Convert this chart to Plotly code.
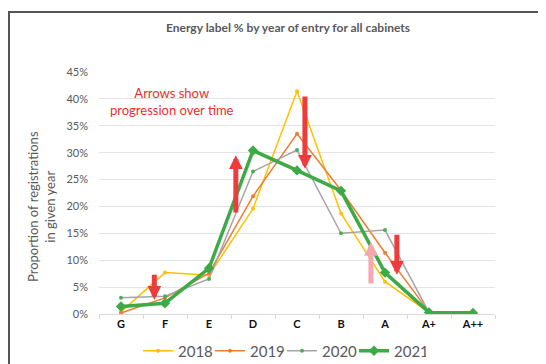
import plotly.graph_objects as go

labels = ["G", "F", "E", "D", "C", "B", "A", "A+", "A++"]
s2018 = [0.4, 7.7, 7.2, 19.6, 41.4, 18.7, 6.0, 0.3, 0.2]
s2019 = [0.2, 3.0, 7.6, 21.9, 33.5, 23.0, 11.4, 0.4, 0.4]
s2020 = [3.0, 3.3, 6.5, 26.5, 30.5, 15.0, 15.6, 0.3, 0.2]
s2021 = [1.4, 2.0, 8.5, 30.4, 26.7, 22.9, 7.7, 0.3, 0.2]

def frac(v):
    return [x / 100 for x in v]

fig = go.Figure()
fig.add_trace(go.Scatter(x=labels, y=frac(s2018), name="2018", mode="lines+markers",
                         line=dict(color="#FFC000", width=1.5), marker=dict(size=4, color="#FFC000")))
fig.add_trace(go.Scatter(x=labels, y=frac(s2019), name="2019", mode="lines+markers",
                         line=dict(color="#ED7D31", width=1.5), marker=dict(size=4, color="#ED7D31")))
fig.add_trace(go.Scatter(x=labels, y=frac(s2020), name="2020", mode="lines+markers",
                         line=dict(color="#A5A5A5", width=1.5), marker=dict(size=4, color="#4CAF50")))
fig.add_trace(go.Scatter(x=labels, y=frac(s2021), name="2021", mode="lines+markers",
                         line=dict(color="#3DAA47", width=3.5),
                         marker=dict(size=8, symbol="diamond", color="#3DAA47")))

def arrow(xi, y_from, y_to, color):
    fig.add_annotation(x=xi, y=y_to / 100, ax=xi, ay=y_from / 100, xref="x", yref="y",
                       axref="x", ayref="y", showarrow=True, arrowhead=2, arrowsize=0.55,
                       arrowwidth=5, arrowcolor=color, text="", standoff=0)

arrow(0.757, 7.6, 2.65, "#EE3B3B")
arrow(2.61, 18.6, 29.5, "#EE3B3B")
arrow(4.18, 40.7, 27.0, "#EE3B3B")
arrow(6.27, 15.0, 7.3, "#EE3B3B")
arrow(5.68, 5.4, 13.4, "#F6A7B0")

# plot area in window pixels: left 99, right 495, top 72, bottom 314
PL, PW, PB, PH = 99, 396, 314, 242
W, H = 538, 356

def px(xw):
    return (xw - PL) / PW

def py(yw):
    return (PB - yw) / PH

fig.add_annotation(x=1.16, y=0.395, xref="x", yref="y", showarrow=False,
                   text="Arrows show<br>progression over time",
                   font=dict(family="Lato", size=13, color="#E8302F"))

fig.add_annotation(x=px(288), y=py(28), xref="paper", yref="paper",
                   xanchor="center", yanchor="middle",
                   showarrow=False, text="<b>Energy label % by year of entry for all cabinets</b>",
                   font=dict(family="Lato", size=12, color="#595959"))

fig.add_annotation(x=px(42), y=py(206), xref="paper", yref="paper",
                   xanchor="center", yanchor="middle",
                   showarrow=False, textangle=-90,
                   text="Proportion of registrations<br>in given year",
                   font=dict(family="Lato", size=13, color="#595959"))

# outer frame
fig.add_shape(type="path", xref="paper", yref="paper",
              path=f"M {px(9)} -0.5 L {px(9)} {py(12)} L 1.3 {py(12)}",
              line=dict(color="#555555", width=2))

# the page has an 8px body margin, so the figure is offset by 8px
fig.update_layout(
    width=W, height=H,
    margin=dict(l=PL - 8, r=W - (PL - 8) - PW, t=72 - 8, b=H - (72 - 8) - PH,
                pad=0, autoexpand=False),
    paper_bgcolor="white", plot_bgcolor="white",
    showlegend=True,
    legend=dict(orientation="h", x=px(282), xanchor="center", y=py(351), yanchor="middle",
                font=dict(family="Lato", size=15, color="#595959"), itemwidth=30,
                entrywidth=27, tracegroupgap=0),
    xaxis=dict(type="category", range=[-0.5, 8.5], showgrid=False, showline=True,
               linecolor="#D9D9D9", linewidth=1, ticks="outside", tickson="boundaries",
               ticklen=4, tickcolor="#D9D9D9",
               tickfont=dict(family="Lato", size=11, color="#111111"), fixedrange=True),
    yaxis=dict(range=[0, 0.45], dtick=0.05, tickformat=".0%", showgrid=True,
               gridcolor="#E3E3E3", gridwidth=1, zeroline=False, showline=False,
               ticks="", ticklabelstandoff=10,
               tickfont=dict(family="Lato", size=11, color="#595959")),
)
fig.update_xaxes(tickprefix="<b>", ticksuffix="</b>")

fig.write_html("out.html")
